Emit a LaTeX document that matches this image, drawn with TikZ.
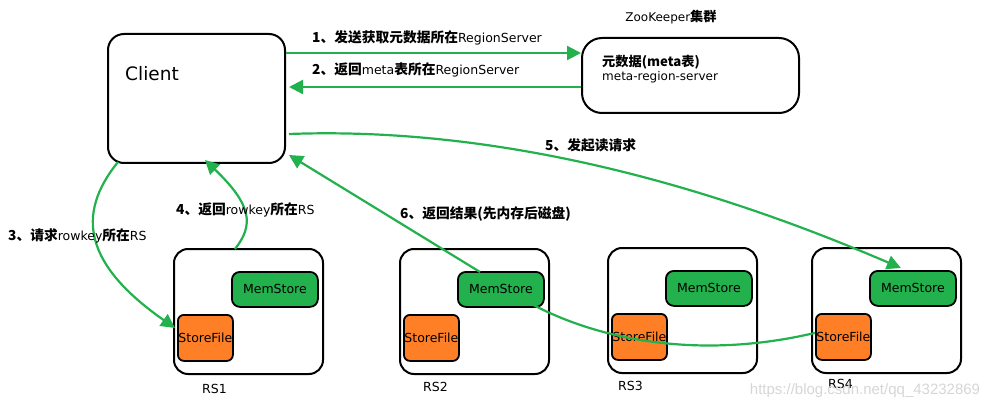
\documentclass[tikz,border=0pt]{standalone}
\usepackage{fontspec}
\setmainfont{DejaVu Sans}
\newfontfamily\cjk{Noto Sans CJK SC}[Scale=1.1]
\newfontfamily\wmfont{Liberation Sans}
\usetikzlibrary{calc,arrows.meta}
\definecolor{flowgreen}{HTML}{22B14C}
\definecolor{fileorange}{HTML}{FF7F27}
\newcommand{\zh}[1]{{\cjk\bfseries #1}}

\begin{document}
\begin{tikzpicture}[x=1pt,y=-1pt,
	rsbox/.style={draw, line width=2pt, rounded corners=14pt, minimum width=149pt, minimum height=125pt, inner sep=0pt, anchor=north west},
	memst/.style={draw, line width=1.8pt, fill=flowgreen, rounded corners=8pt, minimum width=86pt, minimum height=35pt, inner sep=0pt, anchor=north west, font=\fontsize{12.5}{14}\selectfont},
	filest/.style={draw, line width=1.8pt, fill=fileorange, rounded corners=6pt, minimum width=55pt, minimum height=46pt, inner sep=0pt, anchor=north west, font=\fontsize{12.5}{14}\selectfont},
	flow/.style={draw=flowgreen, line width=2.2pt},
	flowtip/.style={-{Triangle[length=14pt,width=14pt]}},
	lbl/.style={anchor=west, inner sep=0pt, font=\fontsize{12.5}{14}\selectfont}]
			%%%%% START %%%%%
			
			\useasboundingbox (0,0) rectangle (996,409);
			
			\node[draw, line width=2pt, rounded corners=16pt, minimum width=177pt, minimum height=129pt, anchor=north west] (client) at (107,33) {};
			\node[anchor=west, inner sep=0pt, font=\fontsize{18.5}{20}\selectfont] (clientname) at (125,74) {Client};
			
			\node[font=\fontsize{12}{13}\selectfont] (zkname) at (671,17) {ZooKeeper\zh{集群}};
			\node[draw, line width=2pt, rounded corners=20pt, minimum width=217pt, minimum height=75pt, anchor=north west] (zk) at (581,37) {};
			\node[anchor=north west, align=left, inner sep=0pt, font=\fontsize{12}{14}\selectfont] (zktext) at (602,55) {\zh{元数据(meta表)}\\meta-region-server};
			
			\node[rsbox] (rs1) at (173,248) {};
			\node[memst] (ms1) at ($(rs1.north west)+(58,23)$) {MemStore};
			\node[filest] (sf1) at ($(rs1.north west)+(4,66)$) {StoreFile};
			\node[lbl] (rsname1) at (202,389) {RS1};
			
			\node[rsbox] (rs2) at (399,248) {};
			\node[memst] (ms2) at ($(rs2.north west)+(58,23)$) {MemStore};
			\node[filest] (sf2) at ($(rs2.north west)+(4,66)$) {StoreFile};
			\node[lbl] (rsname2) at (423,387) {RS2};
			
			\node[rsbox] (rs3) at (607,247) {};
			\node[memst] (ms3) at ($(rs3.north west)+(58,23)$) {MemStore};
			\node[filest] (sf3) at ($(rs3.north west)+(4,66)$) {StoreFile};
			\node[lbl] (rsname3) at (618,386) {RS3};
			
			\node[rsbox] (rs4) at (811,247) {};
			\node[memst] (ms4) at ($(rs4.north west)+(58,23)$) {MemStore};
			\node[filest] (sf4) at ($(rs4.north west)+(4,66)$) {StoreFile};
			\node[lbl] (rsname4) at (828,384) {RS4};
			
			\draw[flow, flowtip] ($(client.north east)+(0,20)$) -- ($(zk.north west)+(0,16)$);
			\draw[flow, flowtip] ($(zk.north west)+(0,50)$) -- ($(client.north east)+(3,54)$);
			\draw[flow, flowtip] ($(client.south west)+(11,-2)$) .. controls (75,215) and (85,265) .. ($(sf1.north west)+(-2,14)$);
			\draw[flow, flowtip] ($(rs1.north west)+(62,1)$) .. controls (254,225) and (252,205) .. ($(client.south west)+(98,-4)$);
			\draw[flow, flowtip] ($(client.north east)+(3,101)$) .. controls (450,128) and (650,160) .. ($(ms4.north)+(-12,-2)$);
			\draw[flow, flowtip] ($(ms2.north west)+(23,1)$) -- ($(client.south east)+(3,-9)$);
			\draw[flow] ($(ms2.south west)+(76,-3)$) .. controls (600,340) and (700,360) .. ($(sf4.west)+(0,-4)$);
			
			\node[lbl] (step1) at (312,38) {\zh{1、发送获取元数据所在}RegionServer};
			\node[lbl] (step2) at (312,70) {\zh{2、返回}meta\zh{表所在}RegionServer};
			\node[lbl] (step3) at (8,236) {\zh{3、请求}rowkey\zh{所在}RS};
			\node[lbl] (step4) at (176,210) {\zh{4、返回}rowkey\zh{所在}RS};
			\node[lbl] (step5) at (545,145) {\zh{5、发起读请求}};
			\node[lbl] (step6) at (400,214) {\zh{6、返回结果(先内存后磁盘)}};
			
			\node[text=black!16, font=\wmfont\fontsize{15}{17}\selectfont] (mark) at (865,391) {https://blog.csdn.net/qq\_43232869};
			
			%%%%% END %%%%%
\end{tikzpicture}
\end{document}
